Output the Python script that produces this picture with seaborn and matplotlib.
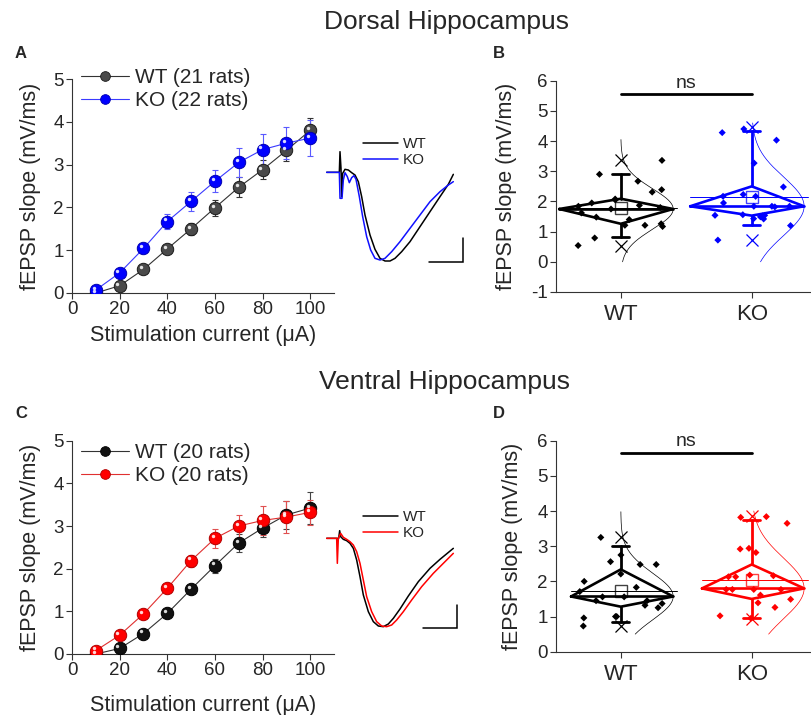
import numpy as np
import pandas as pd
import matplotlib
matplotlib.use("Agg")
import matplotlib.pyplot as plt
import seaborn as sns
from matplotlib.lines import Line2D
from matplotlib import transforms

# ---------------- data ----------------
currents = [10, 20, 30, 40, 50, 60, 70, 80, 90, 100]

dorsal_wt_mean = [0.00, 0.17, 0.55, 1.03, 1.50, 1.99, 2.47, 2.88, 3.33, 3.80]
dorsal_wt_sem = [0.02, 0.04, 0.05, 0.07, 0.14, 0.18, 0.23, 0.22, 0.25, 0.29]
dorsal_ko_mean = [0.07, 0.47, 1.04, 1.67, 2.14, 2.61, 3.05, 3.35, 3.50, 3.62]
dorsal_ko_sem = [0.03, 0.06, 0.10, 0.18, 0.22, 0.26, 0.33, 0.37, 0.38, 0.43]

ventral_wt_mean = [0.00, 0.13, 0.48, 0.95, 1.52, 2.07, 2.60, 2.95, 3.26, 3.42]
ventral_wt_sem = [0.02, 0.04, 0.06, 0.07, 0.09, 0.16, 0.21, 0.20, 0.33, 0.37]
ventral_ko_mean = [0.08, 0.44, 0.94, 1.54, 2.19, 2.71, 3.00, 3.13, 3.21, 3.32]
ventral_ko_sem = [0.03, 0.05, 0.07, 0.09, 0.14, 0.23, 0.27, 0.33, 0.37, 0.30]

groups = ["WT", "KO"]
dorsal_wt_vals = [1.26, 1.21, 2.39, 1.87, 2.67, 1.48, 3.36, 0.54, 2.90, 2.08, 1.21,
                  0.79, 2.31, 1.17, 1.95, 1.40, 1.84, 1.75, 1.62, 1.80, 2.05]
dorsal_ko_vals = [1.20, 4.03, 2.48, 1.95, 1.54, 1.49, 2.17, 1.84, 4.40, 3.27, 1.84,
                  1.43, 0.72, 4.28, 2.17, 1.84, 1.42, 2.23, 1.54, 1.56, 1.52, 1.82]
ventral_wt_vals = [2.00, 1.32, 1.00, 2.48, 1.37, 1.56, 2.75, 0.96, 3.25, 2.21,
                   1.83, 1.45, 2.56, 0.73, 1.56, 2.48, 1.45, 1.00, 1.25, 1.71]
ventral_ko_vals = [1.61, 1.49, 2.13, 2.82, 3.65, 1.02, 1.77, 2.16, 3.84, 2.94,
                   1.77, 0.95, 3.82, 2.18, 2.92, 1.77, 1.26, 2.13, 1.39, 1.77]

# box summary (WT, KO)
dorsal_median = [1.75, 1.84]
dorsal_q1 = [1.26, 1.53]
dorsal_q3 = [2.09, 2.50]
dorsal_whisk_lo = [0.82, 1.23]
dorsal_whisk_hi = [2.90, 4.32]
dorsal_mean = [1.79, 2.15]
dorsal_min = [0.54, 0.72]
dorsal_max = [3.36, 4.45]
dorsal_curve_lo = [0.0, 0.0]
dorsal_curve_hi = [4.05, 4.6]

ventral_median = [1.57, 1.80]
ventral_q1 = [1.28, 1.50]
ventral_q3 = [2.34, 2.48]
ventral_whisk_lo = [0.85, 0.95]
ventral_whisk_hi = [3.00, 3.75]
ventral_mean = [1.74, 2.05]
ventral_min = [0.73, 0.93]
ventral_max = [3.27, 3.85]
ventral_curve_lo = [0.5, 0.5]
ventral_curve_hi = [3.98, 4.0]

# example traces (ms, mV)
dA_wt_t = [1.0, 2.9, 3.0, 3.15, 3.25, 3.4, 3.75, 4.25, 4.75, 5.25, 5.75, 6.25, 6.75, 7.5,
           8.25, 9.0, 9.75, 10.5, 11.25, 12.25, 13.5, 15.0, 16.5, 18.0, 19.25, 20.0]
dA_wt_v = [0, 0, 0.62, 0.12, -0.73, -0.03, 0.09, 0.07, -0.01, -0.08, -0.28, -0.73, -1.28,
           -1.88, -2.31, -2.58, -2.66, -2.66, -2.58, -2.38, -2.08, -1.63, -1.18, -0.73, -0.36, -0.06]
dA_ko_t = [1.0, 2.9, 3.0, 3.3, 3.5, 3.75, 4.1, 4.4, 4.75, 5.1, 5.4, 5.9, 6.4, 7.0, 7.6,
           8.25, 9.0, 9.75, 10.75, 12.0, 13.5, 15.0, 16.5, 18.0, 19.25, 20.0]
dA_ko_v = [0, 0, -0.78, -0.78, -0.23, -0.01, -0.13, -0.31, -0.16, -0.10, -0.21, -0.73, -1.33,
           -1.93, -2.33, -2.58, -2.63, -2.58, -2.38, -2.08, -1.68, -1.28, -0.88, -0.58, -0.38, -0.28]
vC_wt_t = [1.0, 2.8, 2.95, 3.1, 3.5, 4.0, 4.5, 5.0, 5.5, 6.0, 6.5, 7.25, 8.0, 8.75, 9.5,
           10.25, 11.0, 12.0, 13.25, 14.75, 16.5, 18.0, 20.0]
vC_wt_v = [0, 0, 0.23, 0.05, -0.03, -0.07, -0.15, -0.30, -0.65, -1.15, -1.70, -2.20, -2.50,
           -2.63, -2.65, -2.57, -2.40, -2.12, -1.73, -1.30, -0.90, -0.63, -0.30]
vC_ko_t = [1.0, 2.5, 2.6, 2.75, 3.1, 3.5, 4.0, 4.5, 5.0, 5.5, 6.0, 6.5, 7.0, 7.75, 8.5, 9.25,
           10.0, 10.75, 11.5, 12.5, 13.75, 15.25, 17.0, 18.5, 20.0]
vC_ko_v = [0, 0, -0.75, 0, 0.15, 0.03, -0.03, -0.10, -0.20, -0.40, -0.75, -1.25, -1.75, -2.20,
           -2.50, -2.63, -2.65, -2.60, -2.45, -2.20, -1.85, -1.45, -1.05, -0.75, -0.45]
scale_ms = 5.0
scale_mv = 0.7

# ---------------- style ----------------
W, H = 811, 715
sns.set_theme(style="ticks")
plt.rcParams['font.family'] = ['Liberation Sans', 'DejaVu Sans']
plt.rcParams['axes.unicode_minus'] = False
plt.rcParams['axes.linewidth'] = 0.8

fig = plt.figure(figsize=(W / 100, H / 100), dpi=100)


def rect(l, t, r, b):
    return [l / W, 1 - b / H, (r - l) / W, (b - t) / H]


def style_axes(ax):
    sns.despine(ax=ax)
    ax.tick_params(axis='both', direction='out', length=4, width=0.8, labelsize=13.5,
                   color='#333333', pad=2)
    for s in ['left', 'bottom']:
        ax.spines[s].set_color('#333333')


def draw_io(ax, means, sems, line_c, face_c, edge_c, err_c, label):
    ax.errorbar(currents, means, yerr=sems, fmt='none', ecolor=err_c, elinewidth=0.8,
                capsize=2.5, capthick=0.8, zorder=2)
    sns.lineplot(x=currents, y=means, ax=ax, color=line_c, lw=0.8, zorder=3, legend=False)
    sns.scatterplot(x=currents, y=means, ax=ax, s=80, color=face_c, edgecolor=edge_c,
                    linewidth=0.7, zorder=4, legend=False)
    hl = transforms.offset_copy(ax.transData, fig=fig, x=-1.6, y=1.6, units='points')
    ax.scatter(currents, means, s=6, color='white', alpha=0.85, transform=hl, zorder=5,
               linewidths=0)
    return Line2D([], [], color=line_c, lw=0.8, marker='o', markersize=7,
                  mfc=face_c, mec=edge_c, mew=0.6, label=label)


def io_panel(rc, wt_m, wt_s, ko_m, ko_s, wt_cols, ko_cols, labels, leg_anchor, xlabelpad):
    ax = fig.add_axes(rect(*rc))
    h1 = draw_io(ax, wt_m, wt_s, *wt_cols, labels[0])
    h2 = draw_io(ax, ko_m, ko_s, *ko_cols, labels[1])
    ax.set_xlim(0, 110)
    ax.set_ylim(0, 5)
    ax.set_xticks([0, 20, 40, 60, 80, 100])
    ax.set_yticks([0, 1, 2, 3, 4, 5])
    ax.set_xlabel("Stimulation current (\u03bcA)", fontsize=15.5, labelpad=xlabelpad)
    ax.set_ylabel("fEPSP slope (mV/ms)", fontsize=15.5, labelpad=9)
    style_axes(ax)
    ax.legend(handles=[h1, h2], loc='upper left', bbox_to_anchor=leg_anchor, frameon=False,
              fontsize=15, handlelength=2.3, handletextpad=0.3, labelspacing=0.2,
              borderpad=0, borderaxespad=0)
    return ax


def trace_panel(rc, wt_t, wt_v, ko_t, ko_v, ko_c, ylim, leg_anchor, bar_x, bar_y):
    ax = fig.add_axes(rect(*rc))
    sns.lineplot(x=wt_t, y=wt_v, ax=ax, color='black', lw=1.1, sort=False, label='WT')
    sns.lineplot(x=ko_t, y=ko_v, ax=ax, color=ko_c, lw=1.1, sort=False, label='KO')
    ax.set_xlim(0, 24)
    ax.set_ylim(*ylim)
    ax.axis('off')
    ax.plot([bar_x - scale_ms, bar_x, bar_x], [bar_y, bar_y, bar_y + scale_mv],
            color='black', lw=1.1, solid_joinstyle='miter')
    ax.legend(loc='upper left', bbox_to_anchor=leg_anchor, frameon=False, fontsize=11,
              handlelength=2.3, handletextpad=0.3, labelspacing=0.15, borderpad=0,
              borderaxespad=0)
    return ax


def box_panel(rc, wt_vals, ko_vals, med, q1, q3, wlo, whi, mean, vmin, vmax, clo, chi,
              colors, ylim, yticks, left_w, ns_y, seed):
    ax = fig.add_axes(rect(*rc))
    df = pd.DataFrame({'group': ['WT'] * len(wt_vals) + ['KO'] * len(ko_vals),
                       'value': list(wt_vals) + list(ko_vals)})
    np.random.seed(seed)
    sns.stripplot(data=df, x='group', y='value', hue='group', order=groups,
                  palette=dict(zip(groups, colors)), jitter=0.33, marker='D', size=3.6,
                  linewidth=0, ax=ax, legend=False, zorder=3)
    vals = [wt_vals, ko_vals]
    for i, c in enumerate(colors):
        # diamond box
        xs = [i + left_w, i, i + 0.40, i, i + left_w]
        ys = [med[i], q3[i], med[i], q1[i], med[i]]
        ax.plot(xs, ys, color=c, lw=1.9, solid_joinstyle='miter', zorder=4)
        ax.plot([i + left_w, i + 0.40], [med[i], med[i]], color=c, lw=1.9, zorder=4)
        # mean line and marker
        ax.plot([i + left_w, i + 0.43], [mean[i], mean[i]], color=c, lw=0.7, zorder=4)
        ax.plot([i], [mean[i]], marker='s', markersize=8.5, mfc='none', mec=c, mew=1.0,
                alpha=0.75, zorder=5)
        # whiskers
        ax.plot([i, i], [q3[i], whi[i]], color=c, lw=2.0, zorder=4)
        ax.plot([i, i], [q1[i], wlo[i]], color=c, lw=2.0, zorder=4)
        ax.plot([i - 0.065, i + 0.065], [whi[i], whi[i]], color=c, lw=2.0, zorder=4)
        ax.plot([i - 0.065, i + 0.065], [wlo[i], wlo[i]], color=c, lw=2.0, zorder=4)
        # min / max
        ax.plot([i, i], [vmin[i], vmax[i]], ls='none', marker='x', markersize=9, mew=0.9,
                color=c, zorder=5)
        # normal distribution curve
        s = np.std(vals[i])
        yy = np.linspace(clo[i], chi[i], 200)
        xx = i + 0.40 * np.exp(-(yy - med[i]) ** 2 / (2 * s ** 2))
        ax.plot(xx, yy, color=c, lw=0.5, zorder=2)
    ax.plot([0, 1], [ns_y, ns_y], color='black', lw=2.0)
    ax.text(0.5, ns_y + 0.08, 'ns', ha='center', va='bottom', fontsize=14)
    ax.set_xlim(-0.495, 1.445)
    ax.set_ylim(*ylim)
    ax.set_yticks(yticks)
    ax.set_xlabel('')
    ax.set_ylabel("fEPSP slope (mV/ms)", fontsize=15.5, labelpad=10)
    style_axes(ax)
    ax.tick_params(axis='x', labelsize=16, pad=5)
    return ax


# ---------------- panels ----------------
io_panel((72, 79, 334, 293), dorsal_wt_mean, dorsal_wt_sem, dorsal_ko_mean, dorsal_ko_sem,
         ('#333333', '#4a4a4a', '#1a1a1a', '#333333'),
         ('#3a3aff', '#0000ff', '#0000b0', '#5a5aff'),
         ["WT (21 rats)", "KO (22 rats)"], (0.035, 1.05), 5)
io_panel((72, 440.7, 334, 654), ventral_wt_mean, ventral_wt_sem, ventral_ko_mean, ventral_ko_sem,
         ('#333333', '#111111', '#000000', '#444444'),
         ('#e03030', '#ff0000', '#b00000', '#e05050'),
         ["WT (20 rats)", "KO (20 rats)"], (0.035, 0.99), 11)

trace_panel((320, 130, 480, 270), dA_wt_t, dA_wt_v, dA_ko_t, dA_ko_v, '#1010ff',
            (-2.93, 1.27), (0.27, 0.95), 21.4, -2.68)
trace_panel((320, 510, 480, 650), vC_wt_t, vC_wt_v, vC_ko_t, vC_ko_v, '#ff0000',
            (-3.35, 0.85), (0.27, 1.0), 20.5, -2.70)

box_panel((556, 80.7, 810, 292), dorsal_wt_vals, dorsal_ko_vals, dorsal_median, dorsal_q1,
          dorsal_q3, dorsal_whisk_lo, dorsal_whisk_hi, dorsal_mean, dorsal_min, dorsal_max,
          dorsal_curve_lo, dorsal_curve_hi, ['black', '#0000ff'], (-1, 6),
          [-1, 0, 1, 2, 3, 4, 5, 6], -0.47, 5.55, 4)
box_panel((556, 440.7, 810, 651.7), ventral_wt_vals, ventral_ko_vals, ventral_median,
          ventral_q1, ventral_q3, ventral_whisk_lo, ventral_whisk_hi, ventral_mean,
          ventral_min, ventral_max, ventral_curve_lo, ventral_curve_hi,
          ['black', '#ff0000'], (0, 6), [0, 1, 2, 3, 4, 5, 6], -0.38, 5.66, 7)

fig.text(446 / W, 1 - 22 / H, "Dorsal Hippocampus", ha='center', va='center', fontsize=19)
fig.text(445 / W, 1 - 382 / H, "Ventral Hippocampus", ha='center', va='center', fontsize=19)
for lab, (x, y) in {"A": (21, 53), "B": (499, 53), "C": (21, 413), "D": (499, 414)}.items():
    fig.text(x / W, 1 - y / H, lab, ha='center', va='center', fontsize=12, fontweight='bold')

fig.savefig("out.png", dpi=100)
